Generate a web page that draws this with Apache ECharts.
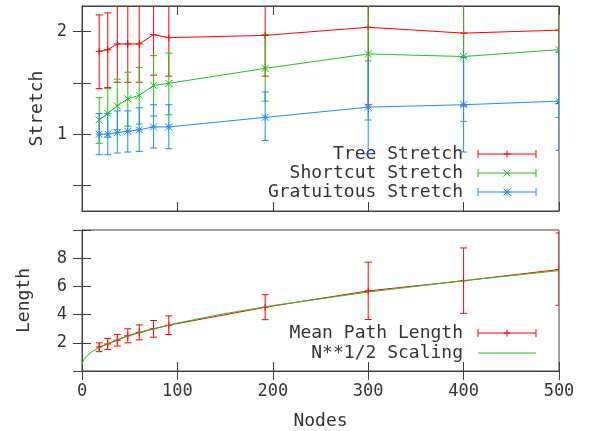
<!DOCTYPE html>
<html>
<head>
<meta charset="utf-8">
<script src="https://cdn.jsdelivr.net/npm/echarts@6/dist/echarts.min.js"></script>
<style>
html, body { margin: 0; padding: 0; background: #fff; }
#chart { width: 595px; height: 431px; }
</style>
</head>
<body>
<div id="chart"></div>
<script>
// nodes measured
var nodes = [18, 27, 37, 48, 60, 75, 91, 192, 300, 400, 500];

// top panel: stretch (log scale)
var treeStretch = [1.75, 1.77, 1.84, 1.84, 1.84, 1.96, 1.92, 1.95, 2.06, 1.98, 2.02];
var treeLow     = [1.36, 1.37, 1.42, 1.42, 1.42, 1.49, 1.48, 1.48, 1.22, 1.21, 1.23];
var treeHigh    = [2.24, 2.27, 2.38, 2.38, 2.38, 2.58, 2.5, 2.6, 3.5, 3.2, 3.3];

var shortcutStretch = [1.10, 1.15, 1.21, 1.27, 1.30, 1.39, 1.41, 1.56, 1.72, 1.69, 1.77];
var shortcutLow     = [0.94, 0.98, 1.03, 1.055, 1.07, 1.13, 1.14, 1.25, 1.10, 1.09, 1.12];
var shortcutHigh    = [1.28, 1.36, 1.45, 1.52, 1.57, 1.70, 1.73, 1.96, 2.7, 2.6, 2.8];

var gratuitousStretch = [1.0, 1.0, 1.01, 1.02, 1.03, 1.05, 1.05, 1.12, 1.20, 1.22, 1.25];
var gratuitousLow     = [0.87, 0.87, 0.88, 0.886, 0.89, 0.91, 0.906, 0.958, 0.876, 0.886, 0.896];
var gratuitousHigh    = [1.15, 1.15, 1.17, 1.17, 1.195, 1.22, 1.22, 1.33, 1.64, 1.68, 1.74];

// bottom panel: path length
var meanPath = [1.7, 1.92, 2.18, 2.5, 2.74, 3.0, 3.25, 4.52, 5.68, 6.4, 7.2];
var meanLow  = [1.37, 1.53, 1.77, 2.0, 2.21, 2.4, 2.59, 3.64, 3.65, 4.09, 4.66];
var meanHigh = [2.0, 2.31, 2.59, 2.99, 3.27, 3.58, 3.91, 5.41, 7.72, 8.73, 9.79];

var scaleNodes  = [0, 1, 2, 5, 10, 20, 40, 60, 100, 150, 200, 300, 400, 500];
var scaleLength = [0.42, 0.7, 0.82, 1.07, 1.35, 1.74, 2.3, 2.72, 3.4, 4.07, 4.64, 5.6, 6.41, 7.12];

// stretch axis ticks (log 2) and labels
var stretchTicks = [0.7071, 1, 1.4142, 2];
var stretchLabels = [1, 2];

var FONT = 'DejaVu Sans Mono';
var TEXT = '#333333';
var AXIS = '#404040';
var RED = '#ff0000', GREEN = '#20c020', BLUE = '#2288ff';

function markerShapes(cx, cy, kind, color) {
    var r = 3.5, segs = [];
    if (kind === '+' || kind === '*') {
        segs.push({x1: cx - r, y1: cy, x2: cx + r, y2: cy});
        segs.push({x1: cx, y1: cy - r, x2: cx, y2: cy + r});
    }
    if (kind === 'x' || kind === '*') {
        segs.push({x1: cx - r, y1: cy - r, x2: cx + r, y2: cy + r});
        segs.push({x1: cx - r, y1: cy + r, x2: cx + r, y2: cy - r});
    }
    return segs.map(function(s) {
        return {type: 'line', shape: s, style: {stroke: color, lineWidth: 1}};
    });
}

function errorBars(color, kind) {
    return function(params, api) {
        var x = api.value(0);
        var pLo = api.coord([x, api.value(1)]);
        var pHi = api.coord([x, api.value(2)]);
        var pMid = api.coord([x, api.value(3)]);
        var w = 3.5;
        var st = {stroke: color, lineWidth: 1};
        var kids = [
            {type: 'line', shape: {x1: pLo[0], y1: pLo[1], x2: pHi[0], y2: pHi[1]}, style: st},
            {type: 'line', shape: {x1: pLo[0] - w, y1: pLo[1], x2: pLo[0] + w, y2: pLo[1]}, style: st},
            {type: 'line', shape: {x1: pHi[0] - w, y1: pHi[1], x2: pHi[0] + w, y2: pHi[1]}, style: st}
        ];
        return {type: 'group', children: kids.concat(markerShapes(pMid[0], pMid[1], kind, color))};
    };
}

function barData(lo, hi, mid) {
    return nodes.map(function(n, i) { return [n, lo[i], hi[i], mid[i]]; });
}
function pairs(xs, ys) {
    return xs.map(function(x, i) { return [x, ys[i]]; });
}

function xAxisDef(grid, pos, labels) {
    return {
        type: 'value', gridIndex: grid, position: pos, min: 0, max: 500, interval: 100,
        axisLine: {show: true, lineStyle: {color: AXIS}},
        axisTick: {show: true, inside: true, length: 9, lineStyle: {color: AXIS}},
        axisLabel: {show: labels, margin: 12, color: TEXT, fontFamily: FONT, fontSize: 17},
        splitLine: {show: false}
    };
}

function stretchAxis(pos, labels) {
    var ax = {
        type: 'log', logBase: 2, gridIndex: 0, position: pos,
        min: Math.pow(2, -0.75), max: Math.pow(2, 1.25),
        axisLine: {show: true, lineStyle: {color: AXIS}},
        axisTick: {show: true, inside: true, length: 9, customValues: stretchTicks, lineStyle: {color: AXIS}},
        axisLabel: {show: labels, margin: 15, color: TEXT, fontFamily: FONT, fontSize: 17,
            customValues: stretchLabels,
            formatter: function(v) { return String(Math.round(v)); }},
        splitLine: {show: false}
    };
    return ax;
}

function legendEntry(label, color, kind, y) {
    var x1 = 478, x2 = 536, xm = 507;
    var st = {stroke: color, lineWidth: 1};
    var els = [
        {type: 'text', x: 463, y: y, style: {text: label, align: 'right', verticalAlign: 'middle',
            fill: TEXT, font: '18px "' + FONT + '"'}},
        {type: 'line', shape: {x1: x1, y1: y, x2: x2, y2: y}, style: st}
    ];
    if (kind) {
        els.push({type: 'line', shape: {x1: x1, y1: y - 4, x2: x1, y2: y + 4}, style: st});
        els.push({type: 'line', shape: {x1: x2, y1: y - 4, x2: x2, y2: y + 4}, style: st});
        els = els.concat(markerShapes(xm, y, kind, color));
    }
    return els;
}

var chart = echarts.init(document.getElementById('chart'));

var topLeft = stretchAxis('left', true);
topLeft.name = 'Stretch';
topLeft.nameLocation = 'middle';
topLeft.nameGap = 36;
topLeft.nameRotate = 90;
topLeft.nameTextStyle = {color: TEXT, fontFamily: FONT, fontSize: 18};

var option = {
    animation: false,
    backgroundColor: '#ffffff',
    grid: [
        {left: 82, right: 36, top: 6, bottom: 220, show: true, borderColor: AXIS, borderWidth: 1, backgroundColor: 'transparent'},
        {left: 82, right: 36, top: 230, bottom: 60, show: true, borderColor: AXIS, borderWidth: 1, backgroundColor: 'transparent'}
    ],
    xAxis: [
        xAxisDef(0, 'bottom', false),
        xAxisDef(0, 'top', false),
        Object.assign(xAxisDef(1, 'bottom', true), {
            name: 'Nodes', nameLocation: 'middle', nameGap: 41,
            nameTextStyle: {color: TEXT, fontFamily: FONT, fontSize: 18}
        }),
        xAxisDef(1, 'top', false)
    ],
    yAxis: [
        topLeft,
        stretchAxis('right', false),
        {
            type: 'value', gridIndex: 1, min: 0, max: 10, interval: 2,
            name: 'Length', nameLocation: 'middle', nameGap: 49, nameRotate: 90,
            nameTextStyle: {color: TEXT, fontFamily: FONT, fontSize: 18},
            axisLine: {show: true, lineStyle: {color: AXIS}},
            axisTick: {show: true, inside: true, length: 9, lineStyle: {color: AXIS}},
            axisLabel: {margin: 15, color: TEXT, fontFamily: FONT, fontSize: 17,
                formatter: function(v) { return (v === 0 || v === 10) ? '' : String(v); }},
            splitLine: {show: false}
        },
        {
            type: 'value', gridIndex: 1, position: 'right', min: 0, max: 10, interval: 2,
            axisLine: {show: true, lineStyle: {color: AXIS}},
            axisTick: {show: true, inside: true, length: 9, lineStyle: {color: AXIS}},
            axisLabel: {show: false},
            splitLine: {show: false}
        }
    ],
    series: [
        {type: 'line', xAxisIndex: 0, yAxisIndex: 0, data: pairs(nodes, treeStretch), symbol: 'none',
            lineStyle: {color: RED, width: 1}},
        {type: 'custom', xAxisIndex: 0, yAxisIndex: 0, clip: true, data: barData(treeLow, treeHigh, treeStretch),
            encode: {x: 0, y: [1, 2, 3]}, renderItem: errorBars(RED, '+')},
        {type: 'line', xAxisIndex: 0, yAxisIndex: 0, data: pairs(nodes, shortcutStretch), symbol: 'none',
            lineStyle: {color: GREEN, width: 1}},
        {type: 'custom', xAxisIndex: 0, yAxisIndex: 0, clip: true, data: barData(shortcutLow, shortcutHigh, shortcutStretch),
            encode: {x: 0, y: [1, 2, 3]}, renderItem: errorBars(GREEN, 'x')},
        {type: 'line', xAxisIndex: 0, yAxisIndex: 0, data: pairs(nodes, gratuitousStretch), symbol: 'none',
            lineStyle: {color: BLUE, width: 1}},
        {type: 'custom', xAxisIndex: 0, yAxisIndex: 0, clip: true, data: barData(gratuitousLow, gratuitousHigh, gratuitousStretch),
            encode: {x: 0, y: [1, 2, 3]}, renderItem: errorBars(BLUE, '*')},

        {type: 'line', xAxisIndex: 2, yAxisIndex: 2, data: pairs(nodes, meanPath), symbol: 'none',
            lineStyle: {color: RED, width: 1}},
        {type: 'custom', xAxisIndex: 2, yAxisIndex: 2, clip: true, data: barData(meanLow, meanHigh, meanPath),
            encode: {x: 0, y: [1, 2, 3]}, renderItem: errorBars(RED, '+')},
        {type: 'line', xAxisIndex: 2, yAxisIndex: 2, data: pairs(scaleNodes, scaleLength), symbol: 'none',
            lineStyle: {color: GREEN, width: 1}}
    ],
    graphic: [].concat(
        legendEntry('Tree Stretch', RED, '+', 154),
        legendEntry('Shortcut Stretch', GREEN, 'x', 173),
        legendEntry('Gratuitous Stretch', BLUE, '*', 192),
        legendEntry('Mean Path Length', RED, '+', 333),
        legendEntry('N**1/2 Scaling', GREEN, null, 353)
    )
};

chart.setOption(option);
</script>
</body>
</html>
